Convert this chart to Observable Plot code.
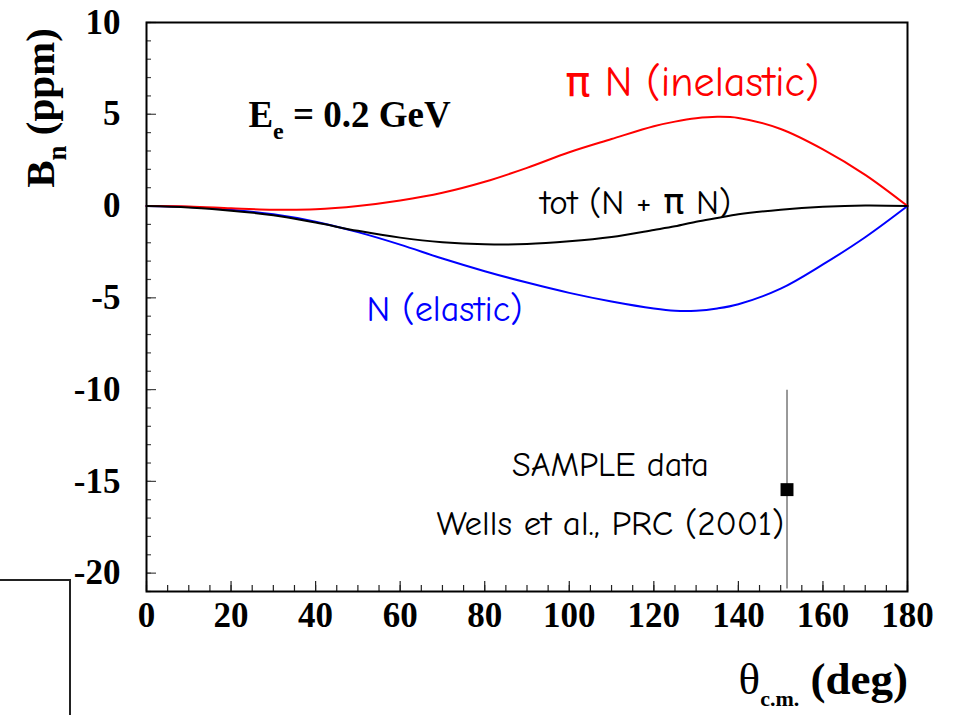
<!DOCTYPE html>
<html>
<head>
<meta charset="utf-8">
<script src="https://cdn.jsdelivr.net/npm/d3@7"></script>
<script src="https://cdn.jsdelivr.net/npm/@observablehq/plot@0.6"></script>
<style>
  body { margin: 0; background: #fff; }
  #wrap { position: relative; width: 953px; height: 715px; overflow: hidden; background: #fff; }
  #corner { position: absolute; left: 0; top: 579px; width: 69px; height: 140px;
            border-top: 2px solid #222; border-right: 2px solid #222; }
</style>
</head>
<body>
<div id="wrap"><div id="corner"></div></div>
<script>
// ---- data ----
const theta     = [0, 10, 20, 30, 40, 50, 60, 70, 80, 90, 100, 110, 120, 125, 130, 135, 140, 150, 160, 170, 180];
const elastic   = [0, -0.05, -0.2, -0.45, -0.85, -1.42, -2.1, -2.86, -3.55, -4.17, -4.73, -5.2, -5.58, -5.7, -5.7, -5.58, -5.35, -4.5, -3.18, -1.7, 0];
const inelastic = [0, -0.02, -0.12, -0.2, -0.18, 0.0, 0.3, 0.72, 1.32, 2.08, 2.93, 3.65, 4.35, 4.6, 4.78, 4.86, 4.8, 4.2, 3.09, 1.7, 0];
const total     = [0, -0.08, -0.25, -0.5, -0.9, -1.35, -1.72, -1.97, -2.08, -2.07, -1.92, -1.68, -1.3, -1.1, -0.85, -0.65, -0.45, -0.2, -0.04, 0.03, 0];

const sampleTheta = [151.5];
const sampleValue = [-15.45];
const sampleError = [5.42];

const yMajorTicks = [-20, -15, -10, -5, 0, 5, 10];
const yMinorTicks = d3.range(-21, 11, 1);
const xMajorTicks = [0, 20, 40, 60, 80, 100, 120, 140, 160, 180];
const xMinorTicks = d3.range(0, 181, 5);

const annotations = [
  {x: 129.1, y: 6.74, text: "\u03c0 N (inelastic)", color: "#ff0000", size: 42},
  {x: 115.7, y: 0.2, text: "tot (N + \u03c0 N)", color: "#000000", size: 35},
  {x: 70.5, y: -5.62, text: "N (elastic)", color: "#0000ff", size: 36},
  {x: 109.7, y: -14.13, text: "SAMPLE data", color: "#000000", size: 34},
  {x: 109.7, y: -17.3, text: "Wells et al., PRC (2001)", color: "#000000", size: 35}
];
const energyLabel = [{x: 24.1, y: 4.96, text: "Ee = 0.2 GeV"}];

// ---- tables ----
const rows = (vals, series) => theta.map((t, i) => ({theta: t, value: vals[i], series}));
const curves = [...rows(elastic, "N"), ...rows(inelastic, "piN"), ...rows(total, "tot")];
const sample = sampleTheta.map((t, i) => ({theta: t, value: sampleValue[i], err: sampleError[i]}));

const serif = "'Liberation Serif', 'Times New Roman', serif";
const comic = "'Comic Sans MS', 'Comic Neue', 'DejaVu Sans', sans-serif";

const chart = Plot.plot({
  width: 953,
  height: 715,
  marginLeft: 146,
  marginRight: 46,
  marginTop: 22,
  marginBottom: 124,
  style: {fontFamily: serif, fontSize: "35px", fontWeight: "bold", background: "white", overflow: "visible"},
  x: {domain: [0, 180]},
  y: {domain: [-21, 10]},
  color: {domain: ["N", "piN", "tot"], range: ["#0000ff", "#ff0000", "#000000"]},
  marks: [
    Plot.axisY(yMinorTicks, {tickSize: -5, fill: "none", stroke: "#444", strokeWidth: 1.2, label: null}),
    Plot.axisY(yMajorTicks, {tickSize: -10, fill: "none", stroke: "#444", strokeWidth: 1.2, label: null}),
    Plot.axisX(xMinorTicks, {tickSize: -6, fill: "none", stroke: "#222", strokeWidth: 1.2, label: null}),
    Plot.axisX(xMajorTicks, {tickSize: -10, fill: "none", stroke: "#222", strokeWidth: 1.2, label: null}),
    Plot.axisY(yMajorTicks, {tickSize: 0, tickPadding: 26, tickFormat: d => String(d), label: null, fill: "black"}),
    Plot.axisX(xMajorTicks, {tickSize: 0, tickPadding: 11, tickFormat: d => String(d), label: null, fill: "black"}),
    Plot.frame({stroke: "black", strokeWidth: 2}),
    Plot.line(curves, {x: "theta", y: "value", z: "series", stroke: "series", strokeWidth: 2, curve: "catmull-rom"}),
    Plot.ruleX(sample, {x: "theta", y1: d => d.value - d.err, y2: d => d.value + d.err, stroke: "#777", strokeWidth: 1.5}),
    Plot.dot(sample, {x: "theta", y: "value", symbol: "square", r: 7.3, fill: "black", stroke: "none"}),
    Plot.text(annotations, {x: "x", y: "y", text: "text", fill: "color", fontSize: d => d.size,
      fontFamily: comic, fontWeight: "normal", textAnchor: "middle", lineAnchor: "middle"}),
    Plot.text(energyLabel, {x: "x", y: "y", text: "text", fill: "black", fontSize: 37, fontFamily: serif,
      fontWeight: "bold", textAnchor: "start", lineAnchor: "middle", className: "energy-label"})
  ]
});

// subscript in the energy label
d3.select(chart).selectAll(".energy-label text").each(function() {
  const t = d3.select(this);
  t.text(null);
  t.append("tspan").text("E");
  t.append("tspan").attr("dy", 12).attr("font-size", 24).text("e");
  t.append("tspan").attr("dy", -12).text(" = 0.2 GeV");
});

const svg = d3.select(chart);
// y axis title
const yt = svg.append("text")
  .attr("transform", "translate(54,108) rotate(-90)")
  .attr("text-anchor", "middle")
  .attr("font-family", serif).attr("font-weight", "bold").attr("font-size", 41).attr("fill", "black");
yt.append("tspan").text("B");
yt.append("tspan").attr("dy", 12).attr("font-size", 27).text("n");
yt.append("tspan").attr("dy", -12).text(" (ppm)");

// x axis title
const xt = svg.append("text")
  .attr("x", 908).attr("y", 694)
  .attr("text-anchor", "end")
  .attr("font-family", serif).attr("font-size", 45).attr("fill", "black");
xt.append("tspan").attr("font-weight", "normal").text("\u03b8");
xt.append("tspan").attr("dy", 12).attr("font-size", 22).attr("font-weight", "bold").text("c.m.");
xt.append("tspan").attr("dy", -12).attr("font-weight", "bold").text(" (deg)");

document.getElementById("wrap").insertBefore(chart, document.getElementById("corner"));
</script>
</body>
</html>
